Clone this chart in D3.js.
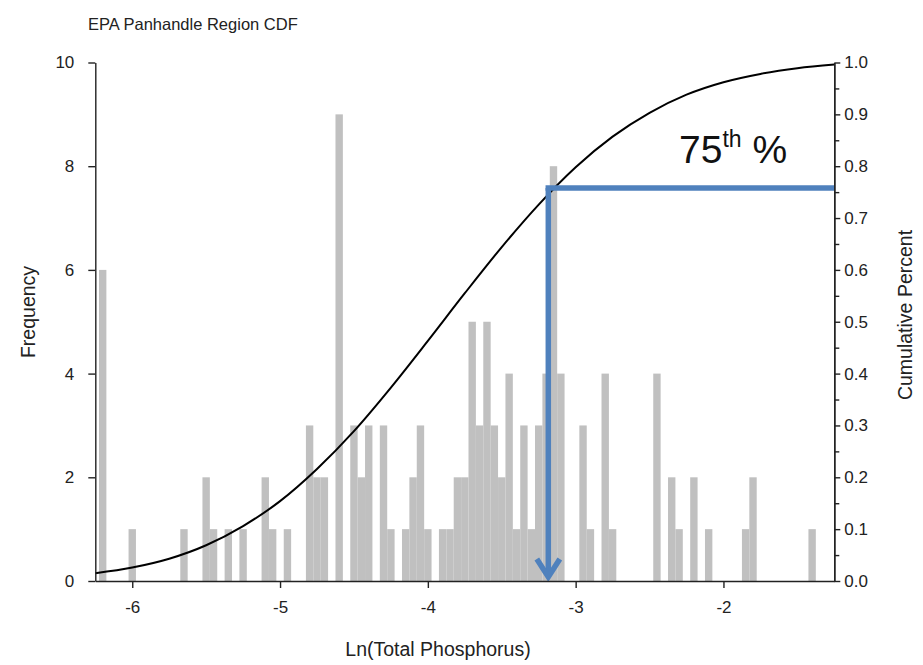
<!DOCTYPE html>
<html><head><meta charset="utf-8">
<script src="https://cdn.jsdelivr.net/npm/d3@7/dist/d3.min.js"></script>
<style>
body{margin:0;background:#fff}
svg{display:block;font-family:"Liberation Sans",Arial,sans-serif}
</style>
</head><body>
<svg id="chart" width="923" height="665"></svg>
<script>
// ---- data ----
const title = "EPA Panhandle Region CDF";
const xLabel = "Ln(Total Phosphorus)";
const yLeftLabel = "Frequency";
const yRightLabel = "Cumulative Percent";

const binCenters = [-6.20,-6.00,-5.65,-5.50,-5.45,-5.35,-5.25,-5.10,-5.05,-4.95,
  -4.80,-4.75,-4.70,-4.60,-4.50,-4.45,-4.40,-4.30,-4.25,-4.15,
  -4.10,-4.05,-4.00,-3.90,-3.85,-3.80,-3.75,-3.70,-3.65,-3.60,
  -3.55,-3.50,-3.45,-3.40,-3.35,-3.30,-3.25,-3.20,-3.15,-3.10,
  -2.95,-2.90,-2.80,-2.75,-2.45,-2.35,-2.30,-2.20,-2.10,-1.85,
  -1.80,-1.40];
const frequencies = [6,1,1,2,1,1,1,2,1,1,
  3,2,2,9,3,2,3,3,1,1,
  2,3,1,1,1,2,2,5,3,5,
  3,2,4,1,3,1,3,4,8,4,
  3,1,4,1,4,2,1,2,1,1,
  2,1];
const binWidth = 0.05;

const cdfX = [-6.25,-6.00,-5.75,-5.50,-5.25,-5.00,-4.75,-4.50,-4.25,-4.00,-3.75,
  -3.50,-3.25,-3.00,-2.75,-2.50,-2.25,-2.00,-1.75,-1.50,-1.25];
const cdfY = [0.015,0.026,0.043,0.069,0.106,0.154,0.216,0.289,0.373,0.463,0.555,
  0.644,0.726,0.798,0.857,0.903,0.938,0.962,0.978,0.989,0.996];

const xTicks = [-6,-5,-4,-3,-2];
const freqTicks = [0,2,4,6,8,10];
const cumTicks = [0,0.1,0.2,0.3,0.4,0.5,0.6,0.7,0.8,0.9,1.0];
const cumMinorTicks = [0.05,0.15,0.25,0.35,0.45,0.55,0.65,0.75,0.85,0.95];

const markerX = -3.185;      // where the arrow drops
const markerP = 0.758;       // 75th percentile level
const markerText = "75", markerSup = "th", markerPct = " %";

// ---- layout ----
const svg = d3.select("#chart");
const L = 95.3, R = 834.3, T = 62.5, B = 581;
const x = d3.scaleLinear().domain([-6.25,-1.25]).range([L,R]);
const yF = d3.scaleLinear().domain([0,10]).range([B,T]);
const yC = d3.scaleLinear().domain([0,1]).range([B,T]);
const ink = "#222";

// bars
const bars = binCenters.map((c,i)=>({c, f: frequencies[i]}));
svg.append("g").selectAll("rect").data(bars).join("rect")
  .attr("x", d=>x(d.c-binWidth/2))
  .attr("width", d=>x(d.c+binWidth/2)-x(d.c-binWidth/2))
  .attr("y", d=>yF(d.f))
  .attr("height", d=>yF(0)-yF(d.f))
  .attr("fill", "#c0c0c0");

// CDF curve
const cdf = cdfX.map((v,i)=>[v, cdfY[i]]);
svg.append("path").datum(cdf)
  .attr("d", d3.line().x(d=>x(d[0])).y(d=>yC(d[1])).curve(d3.curveMonotoneX))
  .attr("fill","none").attr("stroke","#000").attr("stroke-width",2);

// marker lines
const blue = "#4f81bd";
const mx = x(markerX), my = yC(markerP);
svg.append("line").attr("x1", mx-2.75).attr("x2", R).attr("y1", my).attr("y2", my)
  .attr("stroke", blue).attr("stroke-width", 5.5);
svg.append("line").attr("x1", mx).attr("x2", mx).attr("y1", my).attr("y2", yF(0)-4)
  .attr("stroke", blue).attr("stroke-width", 5.5);
svg.append("path")
  .attr("d", `M${mx-11.5},${yF(0)-22}L${mx},${yF(0)-4}L${mx+11.5},${yF(0)-22}`)
  .attr("fill","none").attr("stroke", blue).attr("stroke-width", 5.5)
  .attr("stroke-linejoin","miter").attr("stroke-linecap","butt");

// axes
function styleAxis(g){
  g.selectAll(".domain").attr("stroke", ink).attr("stroke-width", 1.4);
  g.selectAll(".tick line").attr("stroke", ink).attr("stroke-width", 1.4);
  g.selectAll(".tick text").attr("fill", ink).attr("font-size", 17)
    .attr("font-family", '"Liberation Sans",Arial,sans-serif');
}
const fmtX = d => d < 0 ? "-" + Math.abs(d) : String(d);
svg.append("g").attr("transform", `translate(0,${B})`)
  .call(d3.axisBottom(x).tickValues(xTicks).tickFormat(fmtX).tickSize(7).tickSizeOuter(0).tickPadding(13))
  .call(styleAxis);
svg.append("g").attr("transform", `translate(${L},0)`)
  .call(d3.axisLeft(yF).tickValues(freqTicks).tickFormat(d3.format("d")).tickSize(7).tickSizeOuter(0).tickPadding(14))
  .call(styleAxis);
svg.append("g").attr("transform", `translate(${R},0)`)
  .call(d3.axisRight(yC).tickValues(cumTicks).tickFormat(d3.format(".1f")).tickSize(6).tickSizeOuter(0).tickPadding(4))
  .call(styleAxis);
svg.append("g").attr("transform", `translate(${R},0)`)
  .call(d3.axisRight(yC).tickValues(cumMinorTicks).tickFormat("").tickSize(5).tickSizeOuter(0))
  .call(styleAxis);

// texts
svg.append("text").attr("x", 88).attr("y", 30).attr("font-size", 16.5).attr("fill", ink).text(title);
svg.append("text").attr("x", 438).attr("y", 656).attr("text-anchor","middle")
  .attr("font-size", 19.5).attr("fill", ink).text(xLabel);
svg.append("text").attr("transform", `translate(35,312) rotate(-90)`)
  .attr("text-anchor","middle").attr("font-size", 19.5).attr("fill", ink).text(yLeftLabel);
svg.append("text").attr("transform", `translate(912,315) rotate(-90)`)
  .attr("text-anchor","middle").attr("font-size", 19.5).attr("fill", ink).text(yRightLabel);

const lab = svg.append("text").attr("x", 679).attr("y", 163).attr("font-size", 39).attr("fill", "#111");
lab.append("tspan").text(markerText);
lab.append("tspan").attr("font-size", 23).attr("dy", -16).text(markerSup);
lab.append("tspan").attr("dy", 16).text(markerPct);
</script>
</body></html>
